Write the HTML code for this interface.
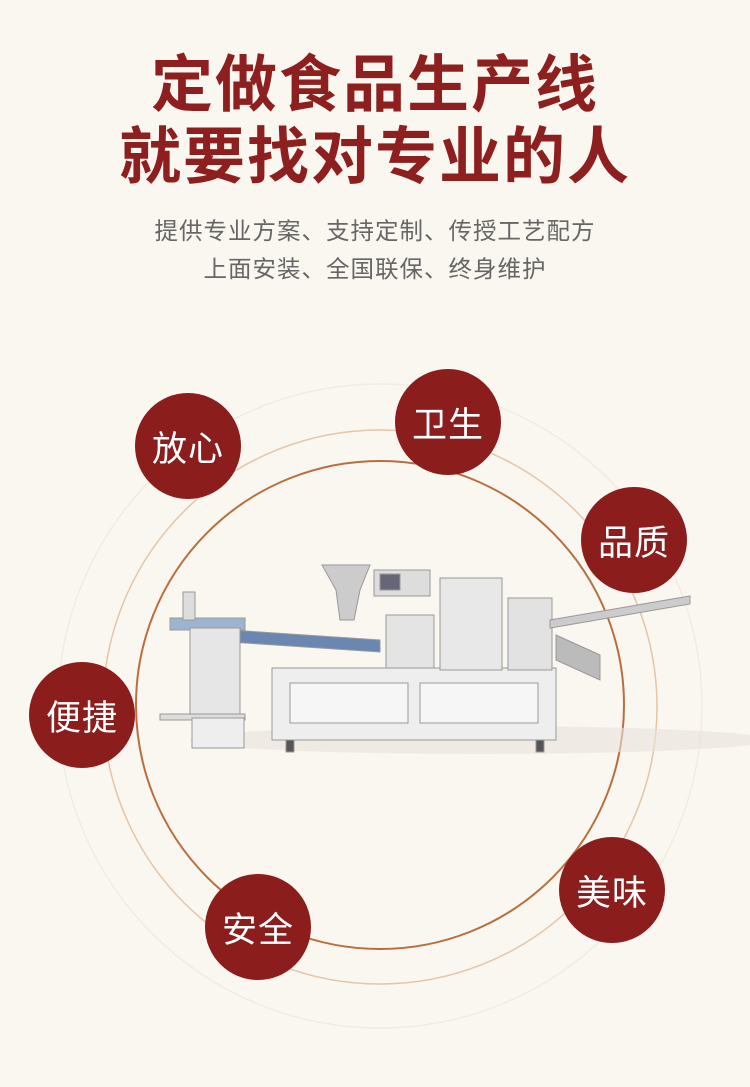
<!DOCTYPE html>
<html><head><meta charset="utf-8"><style>
html,body{margin:0;padding:0}
body{width:750px;height:1087px;background:#faf6f0;position:relative;overflow:hidden;font-family:"Liberation Sans","Noto Sans CJK SC",sans-serif}
.t{position:absolute;left:0;width:750px;text-align:center;color:#8e1f1f;font-weight:bold;font-size:62px;letter-spacing:2px;line-height:1}
.s{position:absolute;left:0;width:750px;text-align:center;color:#666;font-size:23.5px;letter-spacing:1px;line-height:1}
.b{position:absolute;width:106px;height:106px;border-radius:50%;background:#8c1d1d;color:#fff;font-size:35px;display:flex;align-items:center;justify-content:center;letter-spacing:1px}
</style></head><body>
<div class="t" style="top:55px">定做食品生产线</div>
<div class="t" style="top:127px">就要找对专业的人</div>
<div class="s" style="top:220px">提供专业方案、支持定制、传授工艺配方</div>
<div class="s" style="top:258px">上面安装、全国联保、终身维护</div>
<svg style="position:absolute;left:0;top:0" width="750" height="1087">
<circle cx="380" cy="706" r="322" fill="none" stroke="#f3ebdf" stroke-width="1.5"/>
<circle cx="380" cy="707" r="277" fill="none" stroke="#e3c6a8" stroke-width="1.5"/>
<circle cx="380" cy="705" r="244" fill="none" stroke="#b96e3e" stroke-width="2"/>
<ellipse cx="480" cy="740" rx="290" ry="14" fill="#e8e2dc" opacity=".6"/>
<g stroke="#999" stroke-width="1">
<rect x="272" y="668" width="284" height="72" fill="#eeeeee"/>
<rect x="290" y="683" width="118" height="40" fill="#f6f6f6"/>
<rect x="420" y="683" width="118" height="40" fill="#f6f6f6"/>
<rect x="386" y="615" width="48" height="53" fill="#e4e4e4"/>
<rect x="440" y="578" width="62" height="92" fill="#e8e8e8"/>
<rect x="508" y="598" width="44" height="72" fill="#e2e2e2"/>
<rect x="374" y="570" width="56" height="26" fill="#ddd"/>
<rect x="380" y="574" width="20" height="16" fill="#667"/>
<polygon points="322,565 370,565 360,590 354,620 340,620 336,590" fill="#ccc"/>
<polygon points="200,628 380,640 380,652 200,640" fill="#6b86b0"/>
<polygon points="550,620 690,596 690,604 550,628" fill="#ccc"/>
<polygon points="556,635 600,655 600,680 556,660" fill="#bbb"/>
<rect x="170" y="618" width="75" height="12" fill="#9eb3d0"/>
<rect x="190" y="628" width="50" height="90" fill="#e6e6e6"/>
<rect x="183" y="592" width="12" height="28" fill="#ddd"/>
<rect x="160" y="714" width="85" height="6" fill="#ddd"/>
<rect x="192" y="718" width="52" height="30" fill="#eee"/>
<rect x="286" y="740" width="8" height="12" fill="#555"/>
<rect x="536" y="740" width="8" height="12" fill="#555"/>
</g>
</svg>
<div class="b" style="left:135px;top:393px">放心</div>
<div class="b" style="left:395px;top:369px">卫生</div>
<div class="b" style="left:581px;top:487px">品质</div>
<div class="b" style="left:29px;top:662px">便捷</div>
<div class="b" style="left:559px;top:837px">美味</div>
<div class="b" style="left:205px;top:874px">安全</div>
</body></html>
